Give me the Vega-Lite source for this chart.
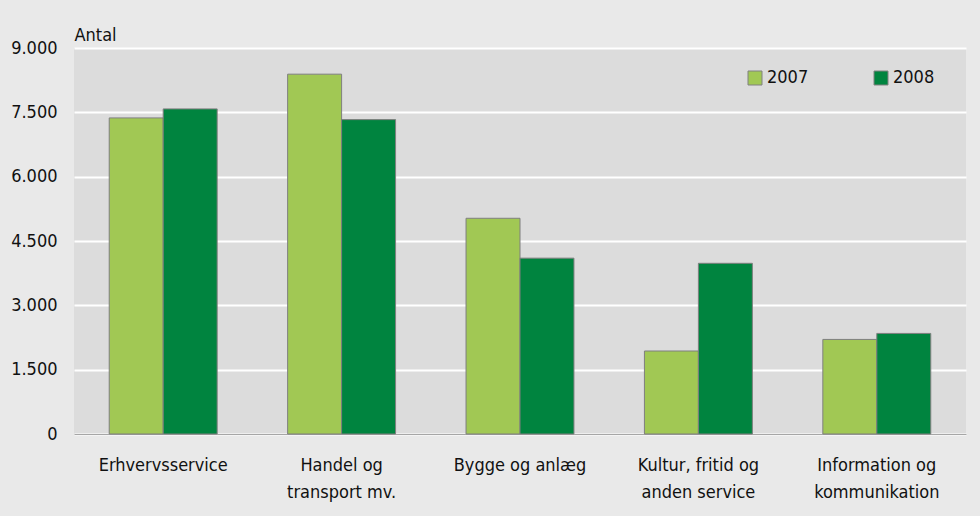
{
  "$schema": "https://vega.github.io/schema/vega-lite/v6.json",
  "width": 892,
  "height": 386,
  "autosize": {"type": "none"},
  "padding": {"left": 74, "top": 48, "right": 14, "bottom": 82},
  "background": "#e9e9e9",
  "data": {
    "values": [
      {"branche": "Erhvervsservice", "aar": "2007", "antal": 7370},
      {"branche": "Erhvervsservice", "aar": "2008", "antal": 7580},
      {"branche": "Handel og transport mv.", "aar": "2007", "antal": 8390},
      {"branche": "Handel og transport mv.", "aar": "2008", "antal": 7330},
      {"branche": "Bygge og anlæg", "aar": "2007", "antal": 5030},
      {"branche": "Bygge og anlæg", "aar": "2008", "antal": 4100},
      {"branche": "Kultur, fritid og anden service", "aar": "2007", "antal": 1935},
      {"branche": "Kultur, fritid og anden service", "aar": "2008", "antal": 3980},
      {"branche": "Information og kommunikation", "aar": "2007", "antal": 2205},
      {"branche": "Information og kommunikation", "aar": "2008", "antal": 2345}
    ]
  },
  "mark": {"type": "bar", "stroke": "#7f7f7f", "strokeWidth": 1},
  "encoding": {
    "x": {
      "field": "branche",
      "type": "nominal",
      "sort": null,
      "scale": {"paddingInner": 0.395, "paddingOuter": 0.1975},
      "axis": {
        "title": null,
        "labelAngle": 0,
        "ticks": false,
        "domainColor": "#a6a6a6",
        "domainWidth": 1,
        "labelFont": "DejaVu Sans Condensed, sans-serif",
        "labelFontSize": 18,
        "labelColor": "#111111",
        "labelPadding": 22,
        "labelBaseline": "top",
        "labelLineHeight": 27,
        "labelLimit": 0,
        "labelExpr": "datum.value == 'Handel og transport mv.' ? ['Handel og', 'transport mv.'] : datum.value == 'Kultur, fritid og anden service' ? ['Kultur, fritid og', 'anden service'] : datum.value == 'Information og kommunikation' ? ['Information og', 'kommunikation'] : datum.value"
      }
    },
    "xOffset": {"field": "aar", "type": "nominal", "scale": {"paddingInner": 0, "paddingOuter": 0}},
    "y": {
      "field": "antal",
      "type": "quantitative",
      "scale": {"domain": [0, 9000], "nice": false},
      "axis": {
        "title": "Antal",
        "titleAngle": 0,
        "titleX": 0,
        "titleY": -8,
        "titleAlign": "left",
        "titleBaseline": "alphabetic",
        "titleFont": "DejaVu Sans Condensed, sans-serif",
        "titleFontSize": 18,
        "titleFontWeight": "normal",
        "titleColor": "#111111",
        "values": [0, 1500, 3000, 4500, 6000, 7500, 9000],
        "labelExpr": "replace(format(datum.value, ',.0f'), ',', '.')",
        "domain": false,
        "ticks": false,
        "grid": true,
        "gridColor": "#ffffff",
        "gridWidth": 2,
        "gridOpacity": 1,
        "labelFont": "DejaVu Sans Condensed, sans-serif",
        "labelFontSize": 18,
        "labelColor": "#111111",
        "labelPadding": 17
      }
    },
    "color": {
      "field": "aar",
      "type": "nominal",
      "scale": {"domain": ["2007", "2008"], "range": ["#a1c854", "#00843f"]},
      "legend": {
        "title": null,
        "orient": "none",
        "legendX": 672,
        "legendY": 21,
        "direction": "horizontal",
        "symbolType": "square",
        "symbolSize": 196,
        "symbolStrokeColor": "#808080",
        "symbolStrokeWidth": 1,
        "symbolOpacity": 1,
        "labelFont": "DejaVu Sans Condensed, sans-serif",
        "labelFontSize": 18,
        "labelColor": "#111111",
        "labelOffset": 3,
        "columnPadding": 63,
        "padding": 0
      }
    }
  },
  "config": {
    "view": {"fill": "#dcdcdc", "stroke": null}
  }
}
